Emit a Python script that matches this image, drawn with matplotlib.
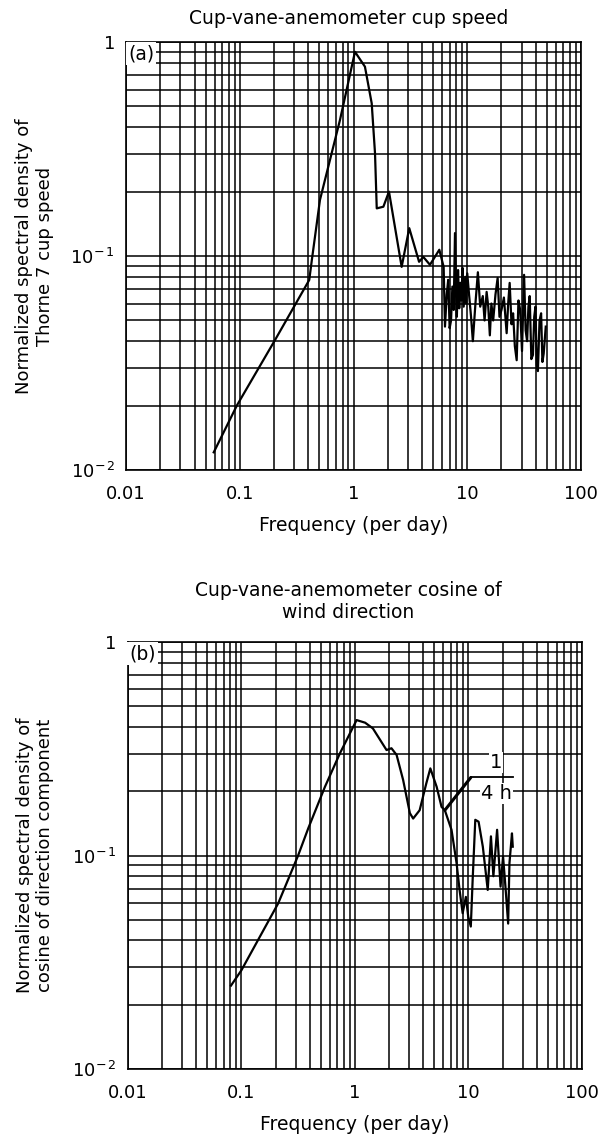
import numpy as np
import matplotlib as mpl
mpl.use('Agg')
import matplotlib.pyplot as plt
from matplotlib.ticker import LogLocator, FixedFormatter, FixedLocator, NullFormatter

plt.rcParams['font.family'] = ['DejaVu Sans']
plt.rcParams['mathtext.fontset'] = 'custom'
plt.rcParams['mathtext.rm'] = 'DejaVu Sans'

# (a) cup speed spectrum
freq_a = [0.059, 0.0946, 0.204, 0.408, 0.43, 0.507, 0.76, 1.03, 1.26, 1.445,
          1.545, 1.6, 1.83, 2.05, 2.65, 3.09, 3.77, 4.11, 4.7, 5.68,
          6.2, 6.37, 6.6, 6.8, 7.0, 7.2, 7.4, 7.6, 7.8, 8.0,
          8.1, 8.3, 8.5, 8.7, 8.9, 9.1, 9.3, 9.6, 9.8, 10.0,
          10.4, 10.8, 11.2, 11.8, 12.4, 13.0, 13.7, 14.2, 14.8, 15.3,
          15.8, 16.3, 16.9, 17.7, 18.5, 19.2, 20.0, 21.0, 22.2, 22.9,
          23.6, 24.5, 25.3, 26.2, 27.2, 28.2, 29.2, 30.3, 31.6, 32.6,
          33.6, 34.5, 35.4, 36.6, 37.8, 38.8, 39.8, 40.8, 41.8, 43.2,
          44.6, 45.8, 47.0, 49.0]
psd_a = [0.0121, 0.0201, 0.0405, 0.0773, 0.0958, 0.183, 0.432, 0.90, 0.767, 0.517,
         0.302, 0.167, 0.17, 0.20, 0.089, 0.135, 0.094, 0.099, 0.091, 0.107,
         0.089, 0.0468, 0.066, 0.0774, 0.046, 0.05, 0.072, 0.056, 0.128, 0.062,
         0.052, 0.086, 0.057, 0.075, 0.062, 0.088, 0.058, 0.08, 0.06, 0.083,
         0.065, 0.052, 0.04, 0.06, 0.084, 0.058, 0.065, 0.05, 0.068, 0.058,
         0.0426, 0.06, 0.05, 0.066, 0.079, 0.052, 0.056, 0.064, 0.0436, 0.06,
         0.0749, 0.048, 0.054, 0.038, 0.0326, 0.062, 0.056, 0.036, 0.0817, 0.045,
         0.04, 0.058, 0.065, 0.033, 0.0345, 0.052, 0.058, 0.031, 0.029, 0.05,
         0.054, 0.032, 0.035, 0.0468]

# (b) cosine of wind direction spectrum
freq_b = [0.081, 0.1, 0.211, 0.316, 0.388, 0.545, 0.738, 1.035, 1.23, 1.44,
          1.9, 2.1, 2.33, 2.66, 3.05, 3.26, 3.72, 4.26, 4.62, 5.25,
          5.8, 6.2, 7.1, 7.87, 8.36, 8.9, 9.5, 9.97, 10.5, 10.9,
          11.5, 12.3, 13.4, 14.8, 15.8, 16.6, 17.9, 19.2, 20.2, 21.2,
          22.4, 23.0, 24.2, 24.6]
psd_b = [0.0246, 0.029, 0.0597, 0.1, 0.134, 0.21, 0.301, 0.431, 0.419, 0.394,
         0.312, 0.318, 0.296, 0.226, 0.158, 0.149, 0.163, 0.218, 0.256, 0.21,
         0.169, 0.163, 0.132, 0.092, 0.069, 0.0537, 0.064, 0.0517, 0.0465, 0.0768,
         0.147, 0.144, 0.11, 0.069, 0.123, 0.08, 0.132, 0.0715, 0.099, 0.0715,
         0.048, 0.092, 0.127, 0.11]

x_ticks = [0.01, 0.1, 1, 10, 100]
x_labels = ['0.01', '0.1', '1', '10', '100']
y_ticks = [0.01, 0.1, 1]
y_labels = [r'$10^{-\,2}$', r'$10^{-\,1}$', '1']


def setup_axes(ax, letter):
    ax.set_xscale('log')
    ax.set_yscale('log')
    ax.set_xlim(0.01, 100)
    ax.set_ylim(0.01, 1)
    ax.xaxis.set_major_locator(FixedLocator(x_ticks))
    ax.xaxis.set_major_formatter(FixedFormatter(x_labels))
    ax.yaxis.set_major_locator(FixedLocator(y_ticks))
    ax.yaxis.set_major_formatter(FixedFormatter(y_labels))
    ax.xaxis.set_minor_locator(LogLocator(base=10, subs=np.arange(2, 10)))
    ax.yaxis.set_minor_locator(LogLocator(base=10, subs=np.arange(2, 10)))
    ax.xaxis.set_minor_formatter(NullFormatter())
    ax.yaxis.set_minor_formatter(NullFormatter())
    ax.tick_params(which='both', length=0)
    ax.tick_params(axis='x', pad=11, labelsize=13)
    ax.tick_params(axis='y', pad=8, labelsize=13)
    ax.grid(True, which='both', color='black', lw=1.1)
    for s in ax.spines.values():
        s.set_linewidth(1.2)
    ax.text(0.004, 0.995, letter, transform=ax.transAxes, ha='left', va='top',
            fontsize=13.5, zorder=5,
            bbox=dict(boxstyle='square,pad=0.12', fc='white', ec='none'))


fig = plt.figure(figsize=(6.09, 11.42), dpi=100)

ax1 = fig.add_axes([0.207, 0.5884, 0.747, 0.3748])
setup_axes(ax1, '(a)')
ax1.plot(freq_a, psd_a, color='black', lw=1.6, zorder=4)
ax1.set_xlabel('Frequency (per day)', fontsize=13.5, labelpad=9)
ax1.set_ylabel('Normalized spectral density of\nThorne 7 cup speed', fontsize=13)
ax1.yaxis.set_label_coords(-0.158, 0.5)
fig.text(0.572, 0.9834, 'Cup-vane-anemometer cup speed', ha='center', va='center',
         fontsize=13.5)

ax2 = fig.add_axes([0.210, 0.0639, 0.7455, 0.3739])
setup_axes(ax2, '(b)')
ax2.plot(freq_b, psd_b, color='black', lw=1.6, zorder=4)
ax2.set_xlabel('Frequency (per day)', fontsize=13.5, labelpad=9)
ax2.set_ylabel('Normalized spectral density of\ncosine of direction component', fontsize=13)
ax2.yaxis.set_label_coords(-0.162, 0.5)
fig.text(0.572, 0.4733, 'Cup-vane-anemometer cosine of\nwind direction', ha='center',
         va='center', fontsize=13.5, linespacing=1.15)

# 1/(4 h) marker
ax2.annotate('', xy=(6.2, 0.163), xytext=(10.5, 0.232),
             arrowprops=dict(arrowstyle='-', lw=2.2, color='black', shrinkA=0, shrinkB=0),
             zorder=6)
ax2.plot([10.5, 24.7], [0.232, 0.232], color='black', lw=1.3, zorder=6)
ax2.text(17.6, 0.274, '1', ha='center', va='center', fontsize=14, zorder=6,
         bbox=dict(boxstyle='square,pad=0.05', fc='white', ec='none'))
ax2.text(17.6, 0.196, '4 h', ha='center', va='center', fontsize=14, zorder=6,
         bbox=dict(boxstyle='square,pad=0.05', fc='white', ec='none'))

fig.savefig('out.png', dpi=100)
